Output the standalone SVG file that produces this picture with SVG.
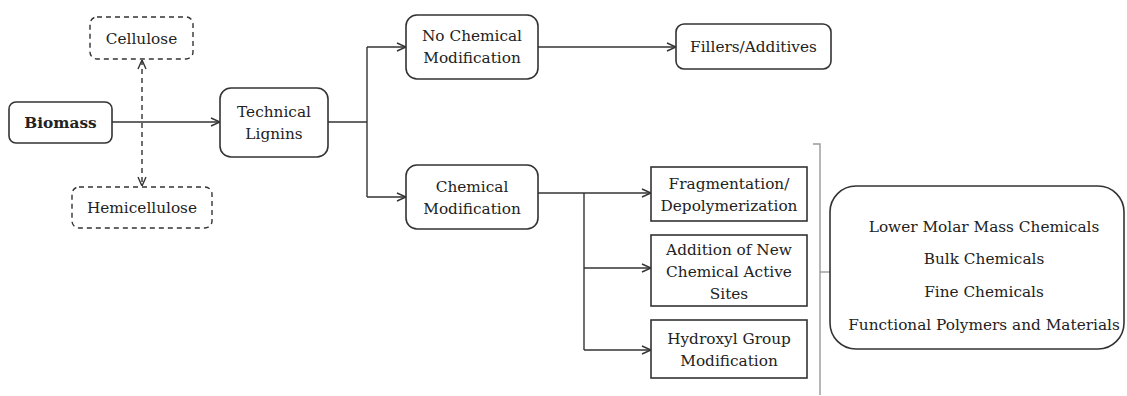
<svg xmlns="http://www.w3.org/2000/svg" width="1127" height="396" viewBox="0 0 1127 396">
<style>
text{font-family:"DejaVu Serif","Liberation Serif",serif;font-size:15.3px;fill:#222;text-anchor:middle}
.b{font-weight:bold}
.box{fill:#fff;stroke:#333;stroke-width:1.6}
.dash{fill:#fff;stroke:#333;stroke-width:1.4;stroke-dasharray:5,4}
.ln{fill:none;stroke:#333;stroke-width:1.4}
.dl{fill:none;stroke:#333;stroke-width:1.4;stroke-dasharray:5,4}
.gr{fill:none;stroke:#999;stroke-width:1.4}
</style>
<defs>
<marker id="ah" viewBox="0 0 10 10" refX="10" refY="5" markerWidth="10" markerHeight="10" markerUnits="userSpaceOnUse" orient="auto-start-reverse">
<path d="M1,1 L10,5 L1,9" fill="none" stroke="#333" stroke-width="1.4"/>
</marker>
</defs>
<g id="connectors">
<line class="ln" x1="112" y1="122" x2="220" y2="122" marker-end="url(#ah)"/>
<line class="dl" x1="142" y1="60" x2="142" y2="186" marker-start="url(#ah)" marker-end="url(#ah)"/>
<polyline class="ln" points="328,122 367,122"/>
<line class="ln" x1="367" y1="47" x2="367" y2="197"/>
<line class="ln" x1="367" y1="47" x2="406" y2="47" marker-end="url(#ah)"/>
<line class="ln" x1="367" y1="197" x2="406" y2="197" marker-end="url(#ah)"/>
<line class="ln" x1="538" y1="47" x2="676" y2="47" marker-end="url(#ah)"/>
<line class="ln" x1="538" y1="193" x2="651" y2="193" marker-end="url(#ah)"/>
<line class="ln" x1="584" y1="193" x2="584" y2="350"/>
<line class="ln" x1="584" y1="268" x2="651" y2="268" marker-end="url(#ah)"/>
<line class="ln" x1="584" y1="350" x2="651" y2="350" marker-end="url(#ah)"/>
<polyline class="gr" points="813,144 820,144 820,395"/>
<line class="gr" x1="820" y1="272" x2="830" y2="272"/>
</g>
<g id="cellulose">
<rect class="dash" x="90" y="17" width="103" height="42" rx="7"/>
<text x="141.5" y="44">Cellulose</text>
</g>
<g id="hemicellulose">
<rect class="dash" x="72" y="187" width="140" height="41" rx="7"/>
<text x="142" y="213">Hemicellulose</text>
</g>
<g id="biomass">
<rect class="box" x="9" y="102" width="103" height="41" rx="7"/>
<text class="b" x="60.5" y="128">Biomass</text>
</g>
<g id="technical-lignins">
<rect class="box" x="220" y="88" width="108" height="69" rx="11"/>
<text x="274" y="117">Technical</text>
<text x="274" y="139">Lignins</text>
</g>
<g id="no-chemical-modification">
<rect class="box" x="406" y="15" width="132" height="64" rx="11"/>
<text x="472" y="41">No Chemical</text>
<text x="472" y="63">Modification</text>
</g>
<g id="fillers-additives">
<rect class="box" x="676" y="24" width="155" height="45" rx="8"/>
<text x="753.5" y="52">Fillers/Additives</text>
</g>
<g id="chemical-modification">
<rect class="box" x="406" y="165" width="132" height="64" rx="11"/>
<text x="472" y="192">Chemical</text>
<text x="472" y="214">Modification</text>
</g>
<g id="fragmentation">
<rect class="box" x="651" y="167" width="156" height="54"/>
<text x="729" y="189">Fragmentation/</text>
<text x="729" y="211">Depolymerization</text>
</g>
<g id="addition">
<rect class="box" x="651" y="235" width="156" height="71"/>
<text x="729" y="255">Addition of New</text>
<text x="729" y="277">Chemical Active</text>
<text x="729" y="299">Sites</text>
</g>
<g id="hydroxyl">
<rect class="box" x="651" y="320" width="156" height="58"/>
<text x="729" y="344">Hydroxyl Group</text>
<text x="729" y="366">Modification</text>
</g>
<g id="products">
<rect class="box" x="830" y="186" width="294" height="163" rx="26"/>
<text x="984" y="232">Lower Molar Mass Chemicals</text>
<text x="984" y="264">Bulk Chemicals</text>
<text x="984" y="297">Fine Chemicals</text>
<text x="984" y="330">Functional Polymers and Materials</text>
</g>
</svg>
